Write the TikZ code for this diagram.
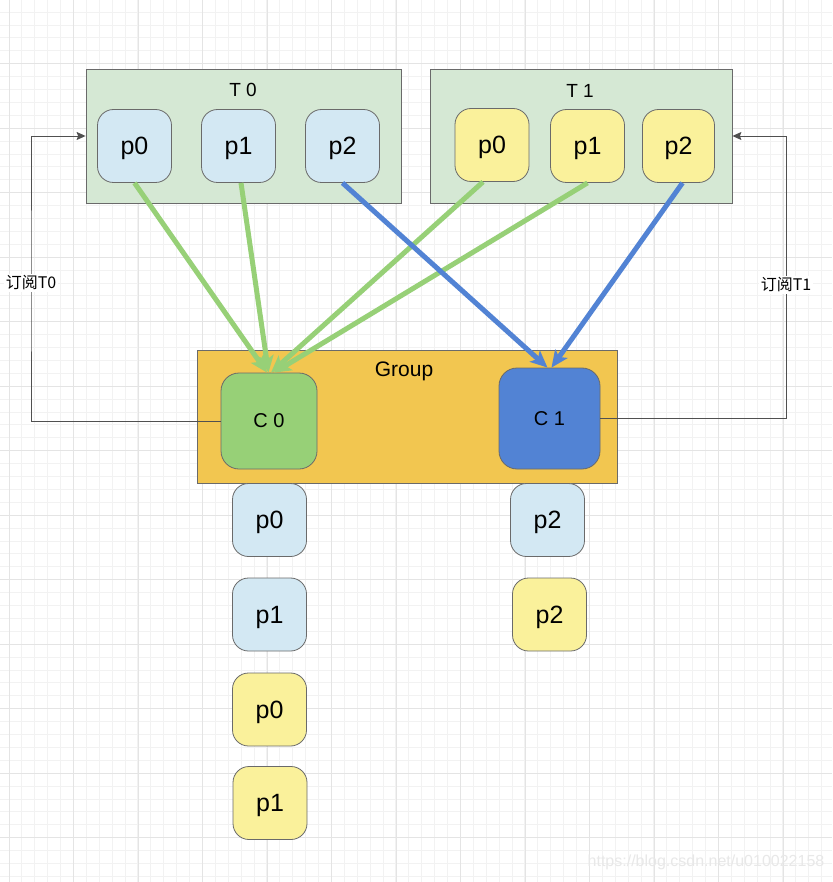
\documentclass[tikz,border=0pt]{standalone}
\usepackage{fontspec}
\setmainfont{Liberation Sans}
\newfontfamily\cjk{Noto Sans CJK SC}
\usetikzlibrary{arrows.meta}
\definecolor{tgreen}{HTML}{D5E8D4}
\definecolor{pbluec}{HTML}{D3E8F3}
\definecolor{pyellowc}{HTML}{FAF19B}
\definecolor{groupc}{HTML}{F2C650}
\definecolor{cgreen}{HTML}{97D077}
\definecolor{cblue}{HTML}{5283D4}
\definecolor{edgec}{HTML}{6A6A6A}
\definecolor{subc}{HTML}{505050}
\definecolor{gridminor}{HTML}{F2F2F2}
\definecolor{gridmajor}{HTML}{E4E4E4}
\begin{document}
\begin{tikzpicture}[x=1pt,y=-1pt,
  topic/.style={draw=edgec, line width=0.8pt, fill=tgreen, minimum width=315pt, minimum height=134pt, inner sep=0pt},
  pbox/.style={draw=edgec, line width=0.8pt, rounded corners=16pt, minimum width=74pt, minimum height=73pt, inner sep=0pt, text depth=0pt, font=\fontsize{25}{27}\selectfont},
  pb/.style={pbox, fill=pbluec},
  py/.style={pbox, fill=pyellowc},
  cbox/.style={draw=edgec, line width=0.8pt, rounded corners=18pt, inner sep=0pt, font=\fontsize{20}{22}\selectfont},
  title/.style={font=\fontsize{19}{21}\selectfont, inner sep=0pt},
  garrow/.style={line width=5pt, draw=cgreen, -{Stealth[length=17pt,width=15pt,inset=4pt]}},
  barrow/.style={line width=5pt, draw=cblue, -{Stealth[length=17pt,width=15pt,inset=4pt]}},
  sub/.style={draw=subc, line width=0.9pt, -{Stealth[length=9pt,width=8pt,inset=1.5pt]}},
  sublabel/.style={fill=white, inner sep=2pt, font=\cjk\fontsize{16}{18}\selectfont},
  minorline/.style={draw=gridminor, line width=1pt},
  majorline/.style={draw=gridmajor, line width=1pt}
]
\useasboundingbox (0,0) rectangle (832,882);
\fill[white] (0,0) rectangle (832,882);
% grid
\foreach \i in {0,...,63} {\pgfmathsetmacro\gx{round(8.5+12.9*\i)+0.5}\draw[minorline] (\gx,0) -- (\gx,882);}
\foreach \i in {1,...,68} {\pgfmathsetmacro\gy{round(-1.2+12.9*\i)+0.5}\draw[minorline] (0,\gy) -- (832,\gy);}
\foreach \i in {0,...,12} {\pgfmathsetmacro\gx{round(8.5+64.5*\i)+0.5}\draw[majorline] (\gx,0) -- (\gx,882);}
\foreach \i in {1,...,13} {\pgfmathsetmacro\gy{round(-1.2+64.5*\i)+0.5}\draw[majorline] (0,\gy) -- (832,\gy);}

% topics
\node[topic] (T0) at (243.5,136) {};
\node[topic, minimum width=302pt] (T1) at (581,136) {};
\node[title] (T0t) at (243,90) {T 0};
\node[title] (T1t) at (580,91) {T 1};

\node[pb] (T0p0) at (134.5,146) {p0};
\node[pb] (T0p1) at (238.5,146) {p1};
\node[pb] (T0p2) at (342.5,146) {p2};
\node[py] (T1p0) at (492,145) {p0};
\node[py] (T1p1) at (587.5,146) {p1};
\node[py, minimum width=72pt] (T1p2) at (678.5,146) {p2};

% group
\node[draw=edgec, line width=0.8pt, fill=groupc, minimum width=420pt, minimum height=133pt, inner sep=0pt] (G) at (407,416.5) {};
\node[font=\fontsize{21}{23}\selectfont, inner sep=0pt] (Gt) at (404,371) {Group};
\node[cbox, fill=cgreen, minimum width=96pt, minimum height=96pt] (C0) at (269,421) {C 0};
\node[cbox, fill=cblue, minimum width=101pt, minimum height=101pt] (C1) at (549.5,418.5) {C 1};

% assigned partitions
\node[pb] (A0) at (269.5,520) {p0};
\node[pb] (A1) at (269.5,614.5) {p1};
\node[py] (A2) at (269.5,709.5) {p0};
\node[py] (A3) at (270,803) {p1};
\node[pb] (B0) at (547.5,520) {p2};
\node[py] (B1) at (549.5,614.5) {p2};

% arrows
\draw[garrow] (T0p0.south) -- ([xshift=-2pt]C0.north);
\draw[garrow] ([xshift=2.5pt]T0p1.south) -- ([xshift=-0.5pt]C0.north);
\draw[garrow] ([xshift=-9pt]T1p0.south) -- ([xshift=2pt]C0.north);
\draw[garrow] (T1p1.south) -- ([xshift=5pt]C0.north);
\draw[barrow] (T0p2.south) -- ([xshift=-2pt]C1.north);
\draw[barrow] ([xshift=4pt]T1p2.south) -- ([xshift=2pt]C1.north);

% subscriptions
\coordinate (L) at (31,283);
\coordinate (R) at (786,285);
\draw[sub] (C0.west) -| (L) |- (T0.west);
\draw[sub] (C1.east) -| (R) |- (T1.east);
\node[sublabel] (Lt) at (L) {订阅T0};
\node[sublabel] (Rt) at (R) {订阅T1};

% watermark
\node[text=black!9, font=\fontsize{16}{18}\selectfont, inner sep=0pt] (wm) at (706,862) {https://blog.csdn.net/u010022158};
\end{tikzpicture}
\end{document}
